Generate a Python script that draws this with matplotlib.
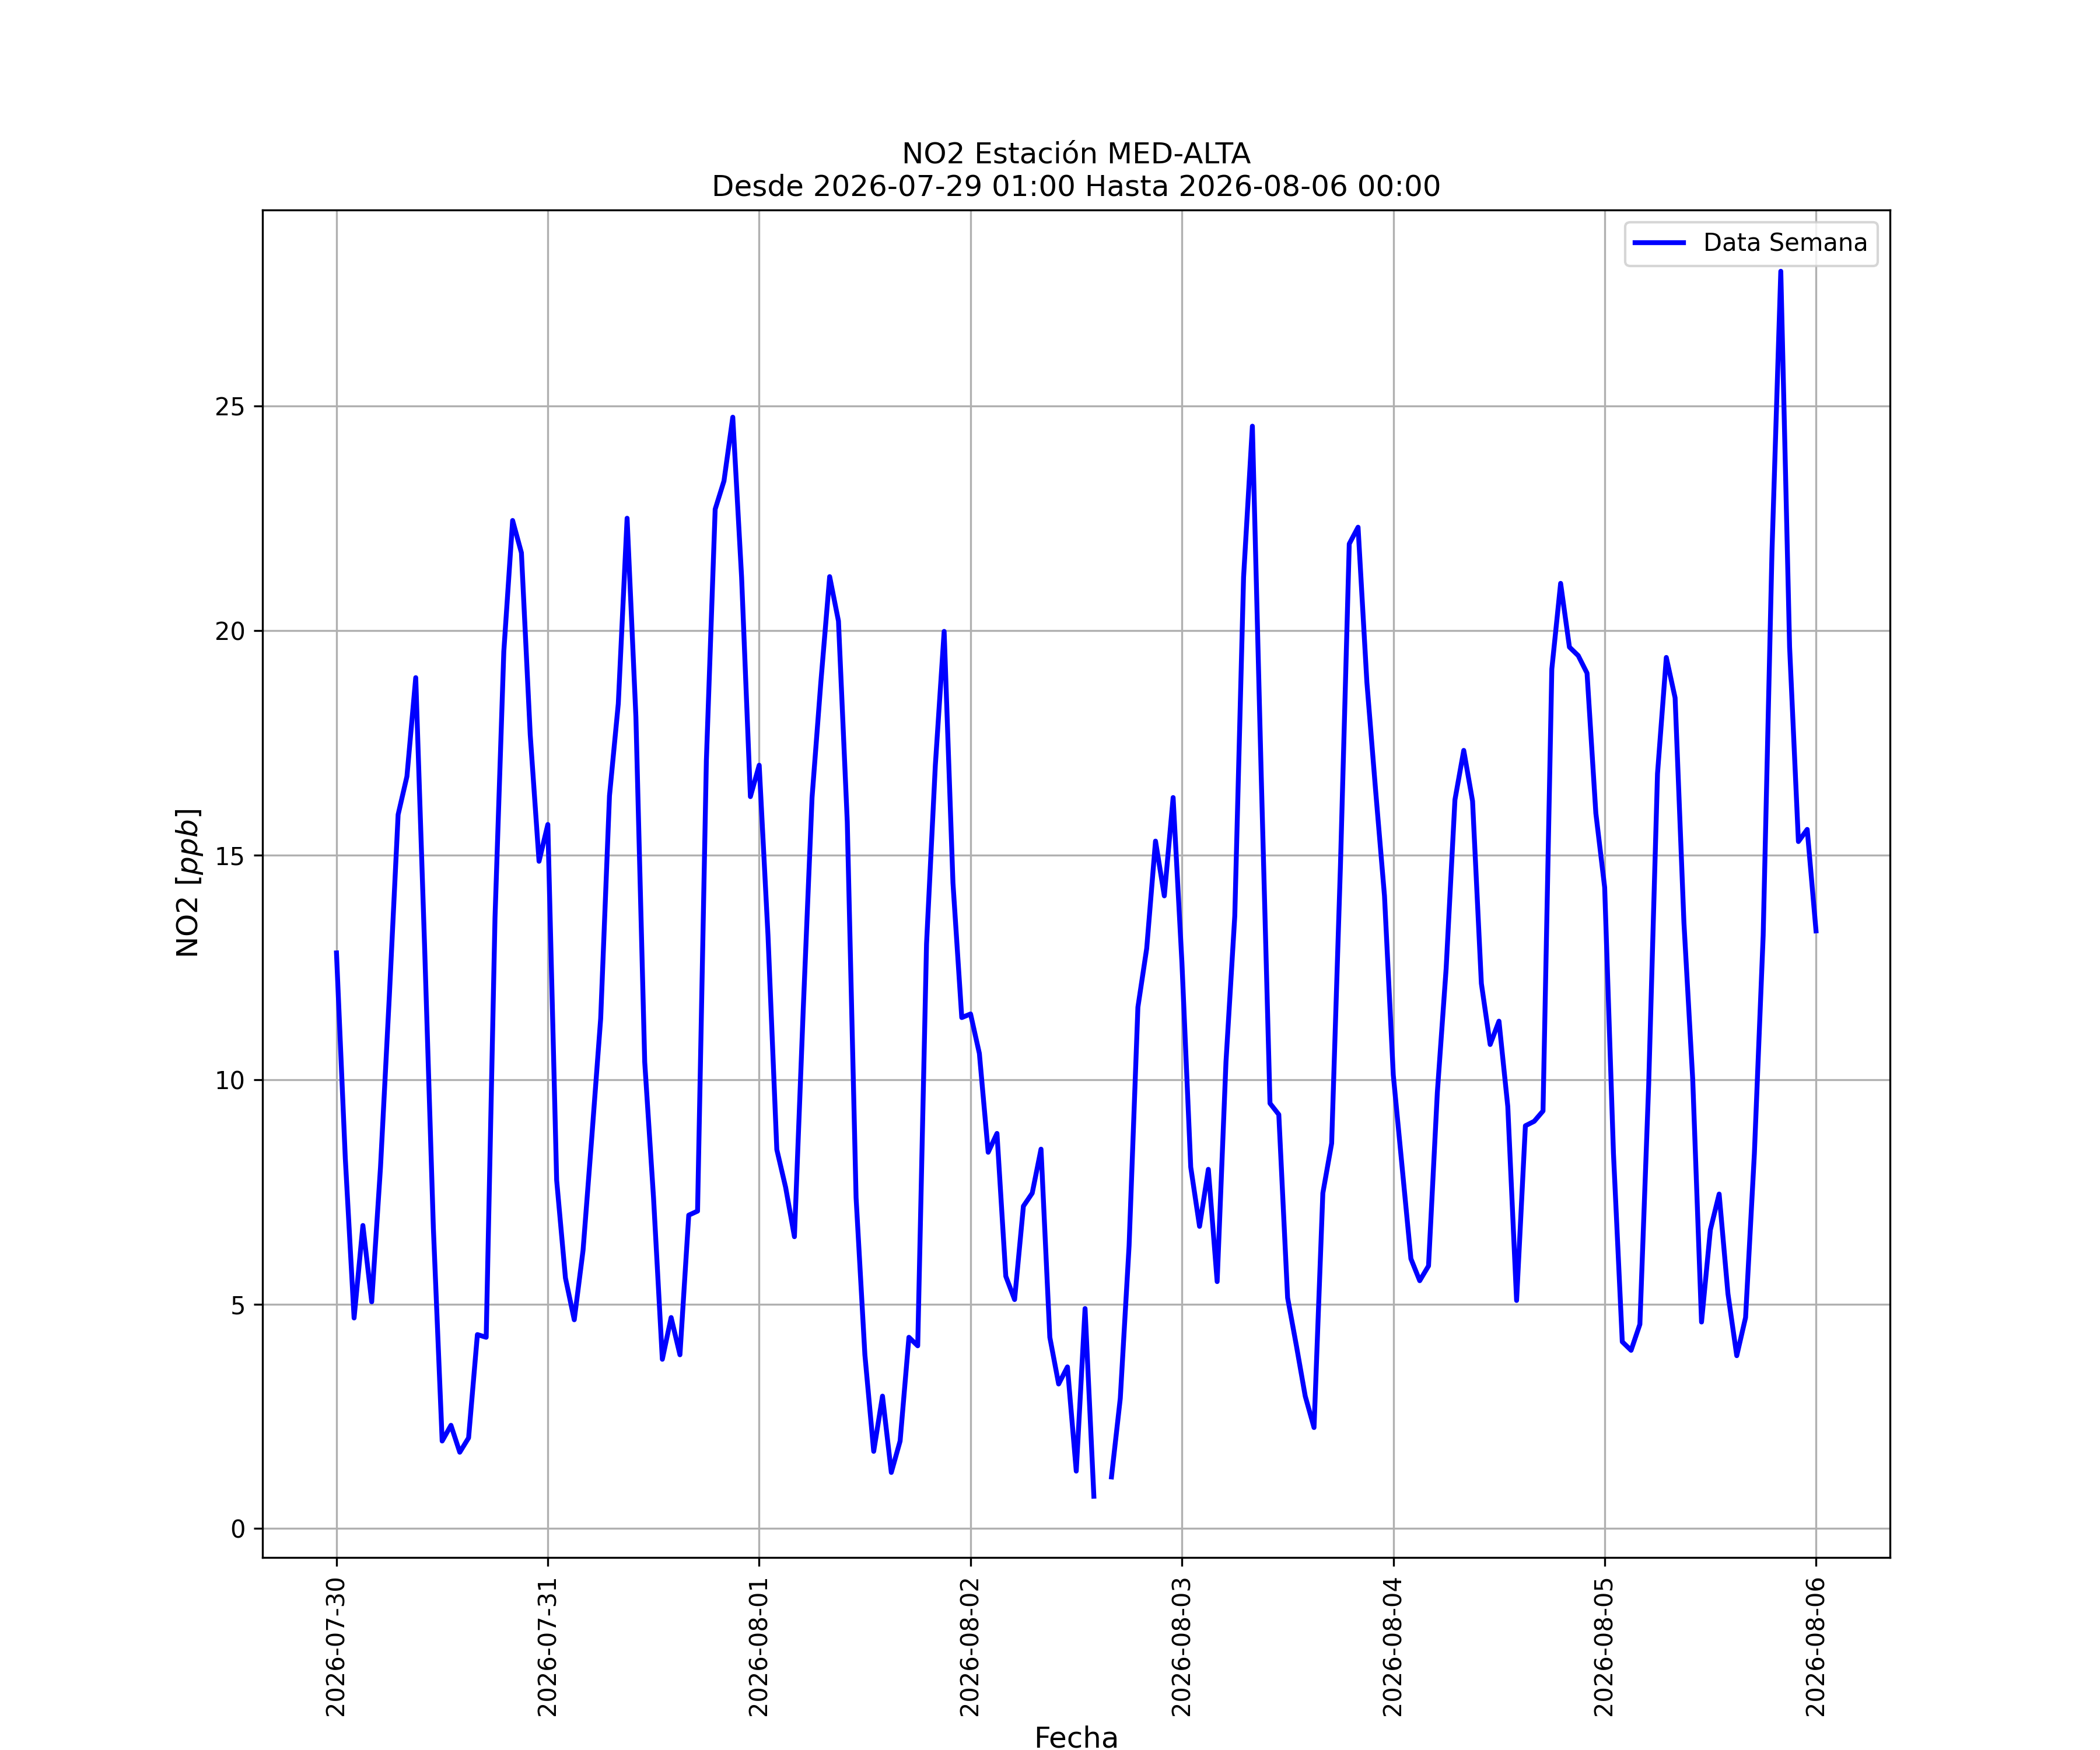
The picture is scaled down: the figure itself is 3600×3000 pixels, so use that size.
import numpy as np
import pandas as pd
import matplotlib
matplotlib.use("Agg")
import matplotlib.pyplot as plt
import matplotlib.dates as mdates

# hourly NO2 values (ppb), one list per day, 00:00 .. 23:00
jul30 = [12.82, 8.25, 4.69, 6.75, 5.05, 8.05, 11.85, 15.9, 16.75, 18.95, 13.0, 6.7,
         1.95, 2.3, 1.7, 2.02, 4.32, 4.26, 13.6, 19.53, 22.45, 21.73, 17.68, 14.86]
jul31 = [15.68, 7.76, 5.58, 4.65, 6.2, 8.74, 11.36, 16.32, 18.37, 22.5, 18.07, 10.39,
         7.37, 3.77, 4.7, 3.87, 6.98, 7.07, 17.1, 22.7, 23.33, 24.75, 21.19, 16.3]
aug01 = [17.0, 13.2, 8.44, 7.6, 6.5, 11.56, 16.28, 18.85, 21.2, 20.21, 15.74, 7.37,
         3.87, 1.72, 2.95, 1.25, 1.95, 4.26, 4.07, 13.02, 17.0, 19.98, 14.38, 11.38]
aug02 = [11.46, 10.58, 8.38, 8.8, 5.62, 5.1, 7.18, 7.47, 8.45, 4.26, 3.22, 3.6,
         1.28, 4.9, 0.72, np.nan, 1.15, 2.9, 6.3, 11.61, 12.92, 15.31, 14.09, 16.28]
aug03 = [12.6, 8.05, 6.73, 8.0, 5.5, 10.39, 13.64, 21.19, 24.55, 16.8, 9.47, 9.22,
         5.14, 4.07, 2.95, 2.25, 7.47, 8.58, 14.77, 21.93, 22.3, 18.85, 16.42, 14.09]
aug04 = [10.1, 8.05, 6.01, 5.52, 5.85, 9.71, 12.47, 16.23, 17.33, 16.2, 12.14, 10.78,
         11.3, 9.4, 5.08, 8.97, 9.07, 9.3, 19.14, 21.05, 19.63, 19.44, 19.05, 15.93]
aug05 = [14.28, 8.35, 4.16, 3.97, 4.55, 9.9, 16.81, 19.4, 18.5, 13.5, 10.0, 4.6,
         6.65, 7.45, 5.23, 3.85, 4.7, 8.35, 13.21, 21.77, 28.0, 19.63, 15.3, 15.57]
aug06 = [13.31]

values = jul30 + jul31 + aug01 + aug02 + aug03 + aug04 + aug05 + aug06
fechas = pd.date_range("2026-07-30 00:00", periods=len(values), freq="h")

estacion = "MED-ALTA"
desde = "2026-07-29 01:00"
hasta = "2026-08-06 00:00"

fig, ax = plt.subplots(figsize=(12, 10), dpi=300)
ax.plot(fechas, values, color="blue", linewidth=2, label="Data Semana")

ax.xaxis.set_major_locator(mdates.DayLocator())
ax.xaxis.set_major_formatter(mdates.DateFormatter("%Y-%m-%d"))
plt.xticks(rotation=90)

ax.set_title("NO2 Estación " + estacion + "\nDesde " + desde + " Hasta " + hasta, fontsize=12)
ax.set_xlabel("Fecha", fontsize=12)
ax.set_ylabel("NO2 [$ppb$]", fontsize=12)
ax.grid(True)
ax.legend(loc="upper right")

fig.savefig("out.png", dpi=300)
